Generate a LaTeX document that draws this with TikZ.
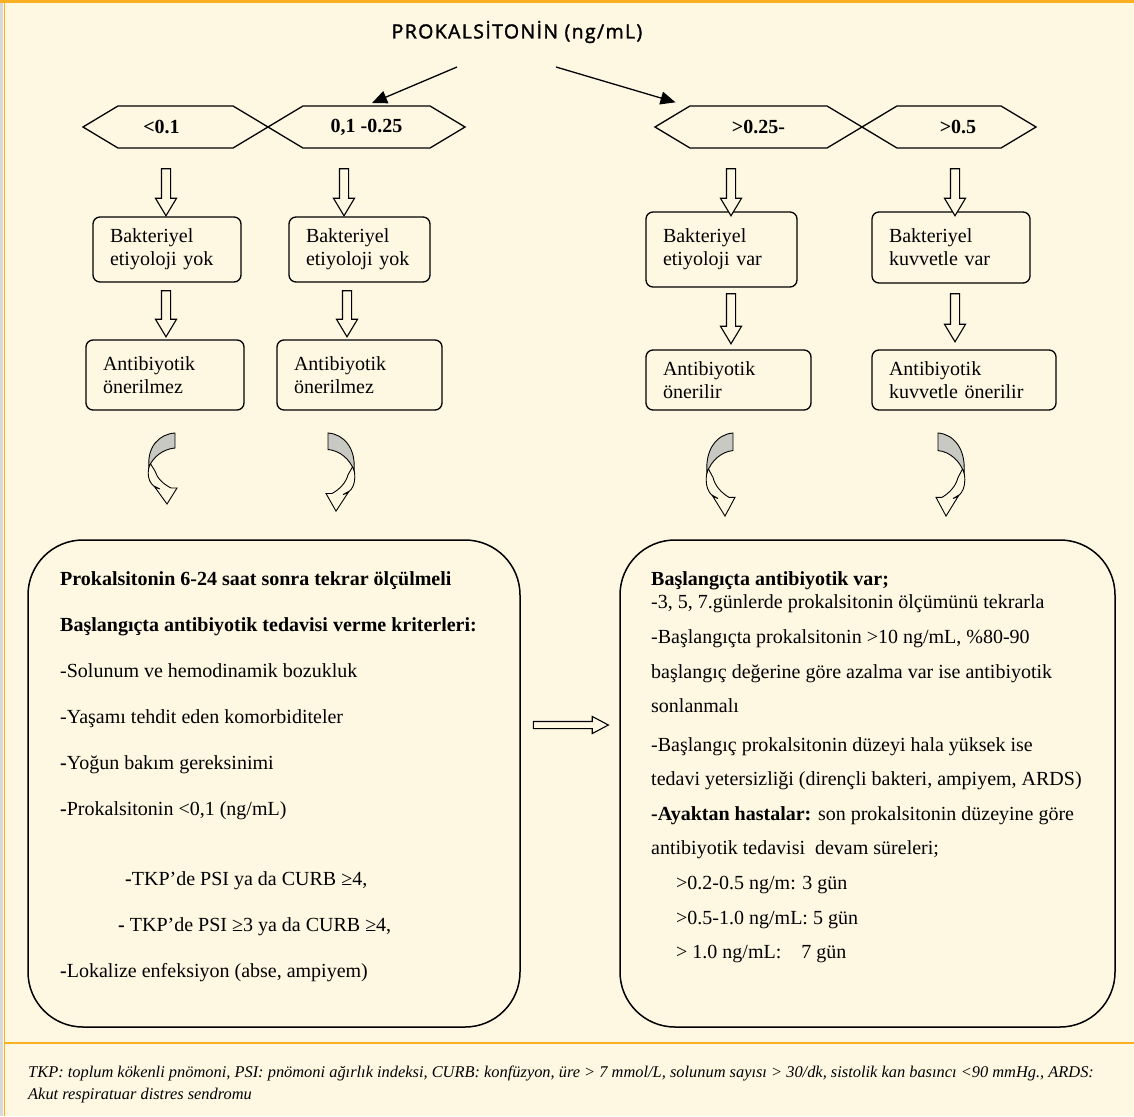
\documentclass[tikz,border=0pt]{standalone}
\usepackage{fontspec}
\setmainfont{Liberation Serif}
\newfontfamily\basfont[FakeBold=1.6, LetterSpace=7]{Open Sans}
\usetikzlibrary{arrows.meta, shapes.symbols, shapes.arrows, calc}

\definecolor{krem}{HTML}{FEF8E3}
\definecolor{turuncu}{HTML}{F9B122}
\definecolor{gri}{HTML}{C9C9C4}
\definecolor{kenar}{HTML}{D9D9D9}

\tikzset{
  altikose/.style={signal, signal to=west and east, signal pointer angle=62, draw, line width=1.3pt, inner sep=0pt, minimum height=42pt, font=\bfseries\fontsize{20}{22}\selectfont},
  kutu/.style={draw, rounded corners=7pt, line width=1.3pt, inner xsep=17pt, inner ysep=0pt, align=left, font=\fontsize{20}{23}\selectfont},
  buyukkutu/.style={draw, rounded corners=55pt, line width=1.5pt},
  metin/.style={anchor=north west, align=left, inner sep=0pt, font=\fontsize{20}{23}\selectfont},
  blok/.style={single arrow, draw, line width=1.1pt, fill=krem, inner sep=4pt, minimum width=20pt, single arrow head extend=6pt, single arrow tip angle=62, single arrow head indent=0pt, shape border rotate=270, minimum height=#1},
  kivrik/.pic={
    \filldraw[fill=krem, line width=0.9pt] (-25,30) .. controls (-30,45) and (-24,54) .. (-15,56) -- (-21,53) -- (-8,71) -- (2,55) -- (-4,55) .. controls (-12,51) and (-18,45) .. (-20,38) -- cycle;
    \filldraw[fill=gri, line width=0.9pt] (0,0) -- (0,15) .. controls (-12,16) and (-22,24) .. (-26,34) .. controls (-28,14) and (-16,1) .. (0,0) -- cycle;
  }
}

\begin{document}
\begin{tikzpicture}[x=1pt, y=-1pt]
  % zemin ve cerceve
  \fill[krem] (0,0) rectangle (1134,1116);
  \useasboundingbox (0,0) rectangle (1134,1116);
  \fill[kenar] (0,0) rectangle (3,1116);
  \fill[turuncu] (0,0) rectangle (1134,3.5);
  \draw[turuncu, line width=1.3pt] (4.5,3) -- (4.5,1116);
  \draw[turuncu, line width=1.3pt] (4.5,1043) -- (1134,1043);

  \node[font=\basfont\fontsize{19.5}{20}\selectfont] (baslik) at (517,32) {PROKALSİTONİN (ng/mL)};

  % esik degerleri
  \node[altikose, minimum width=185pt] (hA) at (175.5,127) {\hspace*{-28pt}<0.1};
  \node[altikose, minimum width=197pt] (hB) at (366.5,127) {0,1 -0.25};
  \node[altikose, minimum width=207pt] (hC) at (758.5,127) {>0.25-};
  \node[altikose, minimum width=174pt] (hD) at (949,127) {\hspace*{18pt}>0.5};

  \coordinate (sol) at (457,67);
  \coordinate (sag) at (556,67);
  \coordinate (saguc) at ($(hC.north)+(-83,-3)$);
  \draw[-{Triangle[length=15pt,width=13pt]}, line width=1.3pt, shorten >=6pt] (sol) -- (hB.north);
  \draw[-{Triangle[length=15pt,width=13pt]}, line width=1.3pt] (sag) -- (saguc);

  % bakteriyel etiyoloji
  \node[kutu, minimum width=148pt, minimum height=65pt, text width=114pt] (bA) at (167,249.5) {Bakteriyel\\etiyoloji yok};
  \node[kutu, minimum width=141pt, minimum height=65pt, text width=107pt] (bB) at (359.5,249.5) {Bakteriyel\\etiyoloji yok};
  \node[kutu, minimum width=151pt, minimum height=75pt, text width=117pt] (bC) at (721.5,249.5) {Bakteriyel\\etiyoloji var};
  \node[kutu, minimum width=158pt, minimum height=71pt, text width=124pt] (bD) at (951,247.5) {Bakteriyel\\kuvvetle var};

  % antibiyotik onerisi
  \node[kutu, minimum width=158pt, minimum height=70pt, text width=124pt] (aA) at (165,375) {Antibiyotik\\önerilmez};
  \node[kutu, minimum width=165pt, minimum height=70pt, text width=131pt] (aB) at (359.5,375) {Antibiyotik\\önerilmez};
  \node[kutu, minimum width=165pt, minimum height=60pt, text width=131pt] (aC) at (728.5,380) {Antibiyotik\\önerilir};
  \node[kutu, minimum width=184pt, minimum height=60pt, text width=150pt] (aD) at (964,380) {Antibiyotik\\kuvvetle önerilir};

  % bos oklar
  \node[blok=47pt] (oA1) at (166,188.5) {};
  \node[blok=47pt] (oB1) at (344,188.5) {};
  \node[blok=47pt] (oC1) at (731,188.5) {};
  \node[blok=47pt] (oD1) at (955,188.5) {};
  \node[blok=46pt] (oA2) at (166,310) {};
  \node[blok=46pt] (oB2) at (347,310) {};
  \node[blok=50pt] (oC2) at (731,315) {};
  \node[blok=48pt] (oD2) at (955,314) {};

  % kivrik oklar
  \pic at (175,433) {kivrik};
  \pic[xscale=-1, yscale=1.1] at (328,433) {kivrik};
  \pic[yscale=1.17] at (733,433) {kivrik};
  \pic[xscale=-1, yscale=1.17] at (938,433) {kivrik};

  % alt kutular
  \node[buyukkutu, minimum width=492pt, minimum height=487pt] (solkutu) at (274,783.5) {};
  \node[buyukkutu, minimum width=495pt, minimum height=487pt] (sagkutu) at (867.5,783.5) {};
  \node[blok=75pt, shape border rotate=0, inner sep=3pt, minimum width=16pt, single arrow head extend=5pt, single arrow tip angle=56] (gec) at (567.5,725) {};

  \node[metin] (solmetin) at (60,571) {%
    \textbf{Prokalsitonin 6-24 saat sonra tekrar ölçülmeli}\\[23pt]
    \textbf{Başlangıçta antibiyotik tedavisi verme kriterleri:}\\[23pt]
    -Solunum ve hemodinamik bozukluk\\[23pt]
    -Yaşamı tehdit eden komorbiditeler\\[23pt]
    \textbf{-}Yoğun bakım gereksinimi\\[23pt]
    \textbf{-}Prokalsitonin <0,1 (ng/mL)\\[47pt]
    \hspace*{65pt}\textbf{-}TKP’de PSI ya da CURB ≥4,\\[23pt]
    \hspace*{58pt}\textbf{-} TKP’de PSI ≥3 ya da CURB ≥4,\\[23pt]
    \textbf{-}Lokalize enfeksiyon (abse, ampiyem)};

  \node[metin] (sagmetin) at (651,571) {%
    \textbf{Başlangıçta antibiyotik var;}\\
    -3, 5, 7.günlerde prokalsitonin ölçümünü tekrarla\\[12pt]
    -Başlangıçta prokalsitonin >10 ng/mL, \%80-90\\[12pt]
    başlangıç değerine göre azalma var ise antibiyotik\\[11pt]
    sonlanmalı\\[16pt]
    -Başlangıç prokalsitonin düzeyi hala yüksek ise\\[11pt]
    tedavi yetersizliği (dirençli bakteri, ampiyem, ARDS)\\[12pt]
    \textbf{-Ayaktan hastalar:} son prokalsitonin düzeyine göre\\[11pt]
    antibiyotik tedavisi\ \ devam süreleri;\\[12pt]
    \hspace*{25pt}>0.2-0.5 ng/m: 3 gün\\[12pt]
    \hspace*{25pt}>0.5-1.0 ng/mL: 5 gün\\[11pt]
    \hspace*{25pt}> 1.0 ng/mL:\ \ \ \ 7 gün};

  \node[anchor=north west, align=left, inner sep=0pt, font=\itshape\fontsize{16.4}{22}\selectfont] (dipnot) at (28,1066) {TKP: toplum kökenli pnömoni, PSI: pnömoni ağırlık indeksi, CURB: konfüzyon, üre > 7 mmol/L, solunum sayısı > 30/dk, sistolik kan basıncı <90 mmHg., ARDS:\\Akut respiratuar distres sendromu};
\end{tikzpicture}
\end{document}
